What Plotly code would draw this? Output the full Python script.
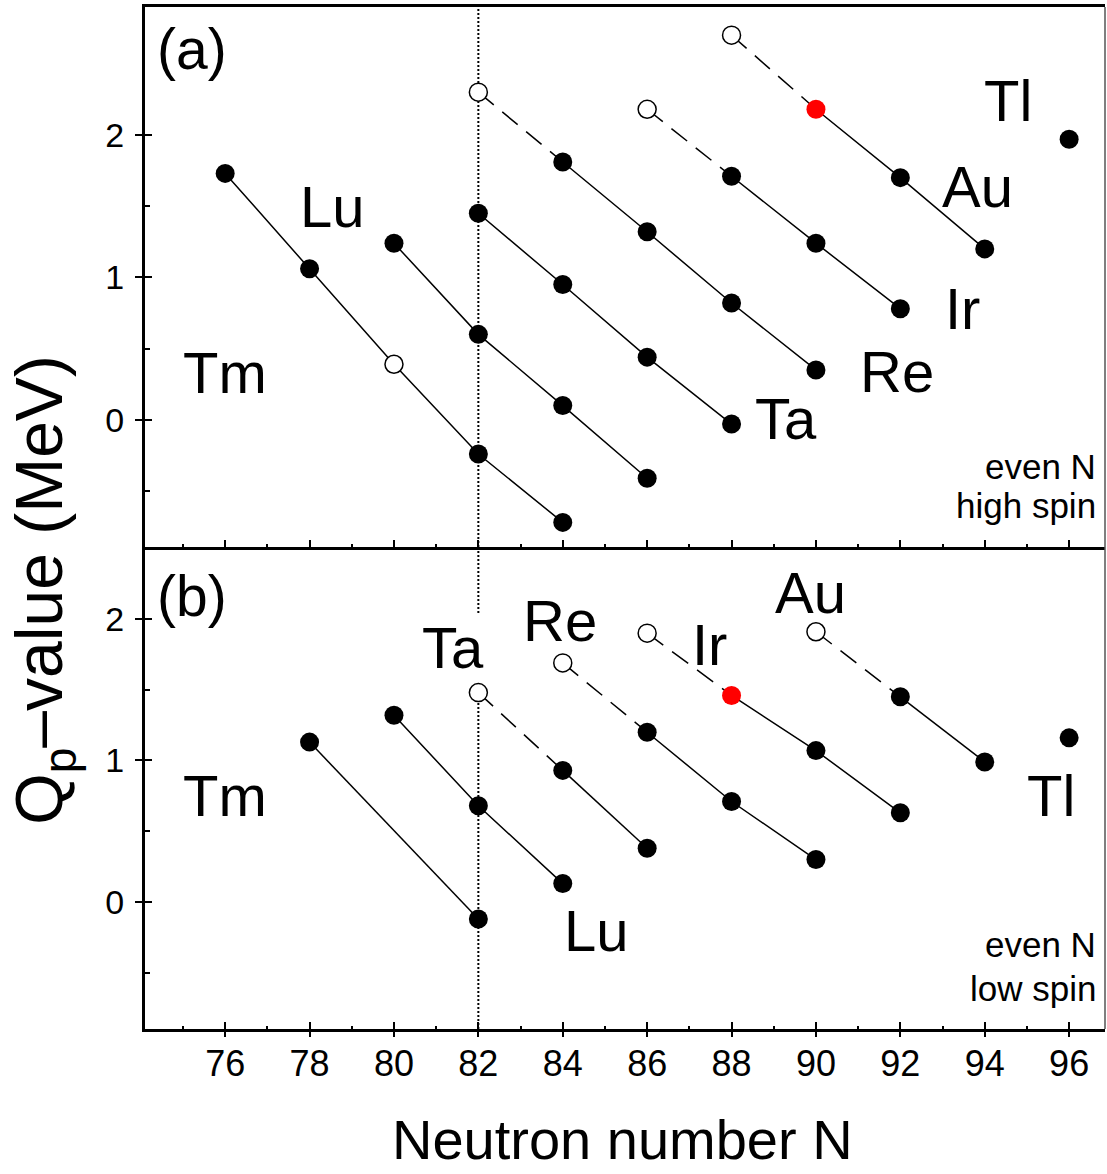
import plotly.graph_objects as go

FONT = "Liberation Sans, Arial, Helvetica, sans-serif"

# ---------------- data (Q_p values in MeV) ----------------
# kind: "f" = filled (experimental), "o" = open (extrapolated), "r" = red highlight
# dash_first: first segment of the chain drawn dashed

# Panel (a): even N, high spin
a_Tm_N = [76, 78, 80, 82, 84]
a_Tm_Q = [1.73, 1.06, 0.39, -0.24, -0.72]
a_Tm_kind = ["f", "f", "o", "f", "f"]

a_Lu_N = [80, 82, 84, 86]
a_Lu_Q = [1.24, 0.60, 0.10, -0.41]
a_Lu_kind = ["f", "f", "f", "f"]

a_Ta_N = [82, 84, 86, 88]
a_Ta_Q = [1.45, 0.95, 0.44, -0.03]
a_Ta_kind = ["f", "f", "f", "f"]

a_Re_N = [82, 84, 86, 88, 90]
a_Re_Q = [2.30, 1.81, 1.32, 0.82, 0.35]
a_Re_kind = ["o", "f", "f", "f", "f"]

a_Ir_N = [86, 88, 90, 92]
a_Ir_Q = [2.18, 1.71, 1.24, 0.78]
a_Ir_kind = ["o", "f", "f", "f"]

a_Au_N = [88, 90, 92, 94]
a_Au_Q = [2.70, 2.18, 1.70, 1.20]
a_Au_kind = ["o", "r", "f", "f"]

a_Tl_N = [96]
a_Tl_Q = [1.97]
a_Tl_kind = ["f"]

# Panel (b): even N, low spin
b_Tm_N = [78, 82]
b_Tm_Q = [1.13, -0.12]
b_Tm_kind = ["f", "f"]

b_Lu_N = [80, 82, 84]
b_Lu_Q = [1.32, 0.68, 0.13]
b_Lu_kind = ["f", "f", "f"]

b_Ta_N = [82, 84, 86]
b_Ta_Q = [1.48, 0.93, 0.38]
b_Ta_kind = ["o", "f", "f"]

b_Re_N = [84, 86, 88, 90]
b_Re_Q = [1.69, 1.20, 0.71, 0.30]
b_Re_kind = ["o", "f", "f", "f"]

b_Ir_N = [86, 88, 90, 92]
b_Ir_Q = [1.90, 1.46, 1.07, 0.63]
b_Ir_kind = ["o", "r", "f", "f"]

b_Au_N = [90, 92, 94]
b_Au_Q = [1.91, 1.45, 0.99]
b_Au_kind = ["o", "f", "f"]

b_Tl_N = [96]
b_Tl_Q = [1.16]
b_Tl_kind = ["f"]

panel_a = [
    (a_Tm_N, a_Tm_Q, a_Tm_kind, False),
    (a_Lu_N, a_Lu_Q, a_Lu_kind, False),
    (a_Ta_N, a_Ta_Q, a_Ta_kind, False),
    (a_Re_N, a_Re_Q, a_Re_kind, True),
    (a_Ir_N, a_Ir_Q, a_Ir_kind, True),
    (a_Au_N, a_Au_Q, a_Au_kind, True),
    (a_Tl_N, a_Tl_Q, a_Tl_kind, False),
]
panel_b = [
    (b_Tm_N, b_Tm_Q, b_Tm_kind, False),
    (b_Lu_N, b_Lu_Q, b_Lu_kind, False),
    (b_Ta_N, b_Ta_Q, b_Ta_kind, True),
    (b_Re_N, b_Re_Q, b_Re_kind, True),
    (b_Ir_N, b_Ir_Q, b_Ir_kind, True),
    (b_Au_N, b_Au_Q, b_Au_kind, True),
    (b_Tl_N, b_Tl_Q, b_Tl_kind, False),
]

# element labels: (text, N, Q)
labels_a = [("Tm", 76.0, 0.33), ("Lu", 78.54, 1.50), ("Ta", 89.30, 0.01),
            ("Re", 91.92, 0.34), ("Ir", 93.47, 0.78), ("Au", 93.84, 1.64),
            ("Tl", 94.56, 2.24)]
labels_b = [("Tm", 76.0, 0.75), ("Ta", 81.41, 1.80), ("Re", 83.93, 1.99),
            ("Lu", 84.81, -0.20), ("Ir", 87.47, 1.82), ("Au", 89.86, 2.19),
            ("Tl", 95.56, 0.75)]

x_ticks = [76, 78, 80, 82, 84, 86, 88, 90, 92, 94, 96]
x_minor = [75, 77, 79, 81, 83, 85, 87, 89, 91, 93, 95]
y_ticks = [0, 1, 2]
y_minor = [-0.5, 0.5, 1.5]
shell_N = 82

X_RANGE = [74.1, 96.85]
YA_RANGE = [-0.893, 2.898]
YB_RANGE = [-0.898, 2.509]
SPLIT = 0.4716

fig = go.Figure()


def add_panel(chains, xa, ya):
    for N, Q, kind, dash_first in chains:
        if len(N) > 1:
            start = 1 if dash_first else 0
            if dash_first:
                fig.add_trace(go.Scatter(x=N[:2], y=Q[:2], mode="lines", xaxis=xa, yaxis=ya,
                                         line=dict(color="black", width=1.5, dash="20px,11px"),
                                         showlegend=False, hoverinfo="skip"))
            fig.add_trace(go.Scatter(x=N[start:], y=Q[start:], mode="lines", xaxis=xa, yaxis=ya,
                                     line=dict(color="black", width=1.5),
                                     showlegend=False, hoverinfo="skip"))
    for N, Q, kind, dash_first in chains:
        for k, style in (("f", dict(color="black", size=19, line=dict(width=0))),
                         ("o", dict(color="white", size=18, line=dict(color="black", width=1.5))),
                         ("r", dict(color="#ff0000", size=19, line=dict(width=0)))):
            xs = [n for n, kk in zip(N, kind) if kk == k]
            ys = [q for q, kk in zip(Q, kind) if kk == k]
            if xs:
                fig.add_trace(go.Scatter(x=xs, y=ys, mode="markers", xaxis=xa, yaxis=ya,
                                         marker=dict(symbol="circle", **style),
                                         showlegend=False, hoverinfo="skip"))


add_panel(panel_a, "x2", "y2")
add_panel(panel_b, "x", "y")

tickfont_x = dict(family=FONT, size=36, color="black")
tickfont_y = dict(family=FONT, size=34, color="black")
minor_x = dict(tickmode="array", tickvals=x_minor, ticks="inside", ticklen=3, tickwidth=2,
               tickcolor="black")
minor_y = dict(tickmode="array", tickvals=y_minor, ticks="inside", ticklen=5, tickwidth=2,
               tickcolor="black")

fig.update_layout(
    width=1107, height=1174,
    margin=dict(l=145, r=2, t=7, b=145),
    paper_bgcolor="white", plot_bgcolor="white",
    showlegend=False,
    # bottom axis of panel (b): labelled, ticks inside (+ outside part from x3)
    xaxis=dict(domain=[0, 1], anchor="y", range=X_RANGE, showgrid=False, zeroline=False,
               showline=True, linewidth=3, linecolor="black",
               tickmode="array", tickvals=x_ticks, ticks="inside", ticklen=7, tickwidth=2,
               tickcolor="black", tickfont=tickfont_x, ticklabelstandoff=1, minor=minor_x),
    xaxis3=dict(overlaying="x", anchor="y", range=X_RANGE, showgrid=False, zeroline=False,
                showline=False, tickmode="array", tickvals=x_ticks, ticks="outside", ticklen=7,
                tickwidth=2, tickcolor="black", showticklabels=False),
    xaxis2=dict(domain=[0, 1], anchor="y2", range=X_RANGE, showgrid=False, zeroline=False,
                showline=True, linewidth=3, linecolor="black", mirror=True,
                tickmode="array", tickvals=x_ticks, ticks="inside", ticklen=7, tickwidth=2,
                tickcolor="black", showticklabels=False, minor=minor_x),
    yaxis=dict(domain=[0, SPLIT], anchor="x", range=YB_RANGE, showgrid=False, zeroline=False,
               showline=True, linewidth=3, linecolor="black",
               tickmode="array", tickvals=y_ticks, ticks="outside", ticklen=7, tickwidth=2,
               tickcolor="black", tickfont=tickfont_y, ticklabelstandoff=4),
    yaxis3=dict(overlaying="y", anchor="x", range=YB_RANGE, showgrid=False, zeroline=False,
                showline=False, tickmode="array", tickvals=y_ticks, ticks="inside", ticklen=7,
                tickwidth=2, tickcolor="black", showticklabels=False, minor=minor_y),
    yaxis2=dict(domain=[SPLIT, 1], anchor="x2", range=YA_RANGE, showgrid=False, zeroline=False,
                showline=True, linewidth=3, linecolor="black",
                tickmode="array", tickvals=y_ticks, ticks="outside", ticklen=7, tickwidth=2,
                tickcolor="black", tickfont=tickfont_y, ticklabelstandoff=4),
    yaxis4=dict(overlaying="y2", anchor="x2", range=YA_RANGE, showgrid=False, zeroline=False,
                showline=False, tickmode="array", tickvals=y_ticks, ticks="inside", ticklen=7,
                tickwidth=2, tickcolor="black", showticklabels=False, minor=minor_y),
)

# empty traces so overlay axes are drawn
fig.add_trace(go.Scatter(x=[None], y=[None], xaxis="x3", yaxis="y3", showlegend=False, hoverinfo="skip"))
fig.add_trace(go.Scatter(x=[None], y=[None], xaxis="x2", yaxis="y4", showlegend=False, hoverinfo="skip"))

# shell closure N=82 dotted lines
for xr, yr in (("x2", "y2 domain"), ("x", "y domain")):
    fig.add_shape(type="line", xref=xr, yref=yr, x0=shell_N, x1=shell_N, y0=0, y1=1,
                  line=dict(color="black", width=2, dash="2px,2px"), layer="below")

# right border (thin)
fig.add_shape(type="line", xref="paper", yref="paper", x0=1, x1=1, y0=0, y1=1,
              line=dict(color="#555555", width=1.5))

big = dict(family=FONT, size=58, color="black")
for txt, n, q in labels_a:
    fig.add_annotation(x=n, y=q, xref="x2", yref="y2", text=txt, showarrow=False, font=big,
                       xanchor="center", yanchor="middle")
for txt, n, q in labels_b:
    fig.add_annotation(x=n, y=q, xref="x", yref="y", text=txt, showarrow=False, font=big,
                       xanchor="center", yanchor="middle",
                       bgcolor="white" if txt == "Ta" else None)

fig.add_annotation(x=74.33, y=2.60, xref="x2", yref="y2", text="(a)", showarrow=False,
                   font=dict(family=FONT, size=57, color="black"), xanchor="left", yanchor="middle")
fig.add_annotation(x=74.33, y=2.16, xref="x", yref="y", text="(b)", showarrow=False,
                   font=dict(family=FONT, size=57, color="black"), xanchor="left", yanchor="middle")

small = dict(family=FONT, size=35, color="black")
corner = [("even N", "x2", "y2", -0.33), ("high spin", "x2", "y2", -0.60),
          ("even N", "x", "y", -0.30), ("low spin", "x", "y", -0.61)]
for txt, xr, yr, q in corner:
    fig.add_annotation(x=96.68, y=q, xref=xr, yref=yr, text=txt, showarrow=False, font=small,
                       xanchor="right", yanchor="middle")

# axis titles
fig.add_annotation(x=0.497, y=-0.108, xref="paper", yref="paper", text="Neutron number N",
                   showarrow=False, font=dict(family=FONT, size=56, color="black"),
                   xanchor="center", yanchor="middle")
fig.add_annotation(x=-0.1055, y=0.4296, xref="paper", yref="paper",
                   text="Q<sub>p</sub>–value (MeV)", textangle=-90,
                   showarrow=False, font=dict(family=FONT, size=66, color="black"),
                   xanchor="center", yanchor="middle")

fig.write_html("out.html")
